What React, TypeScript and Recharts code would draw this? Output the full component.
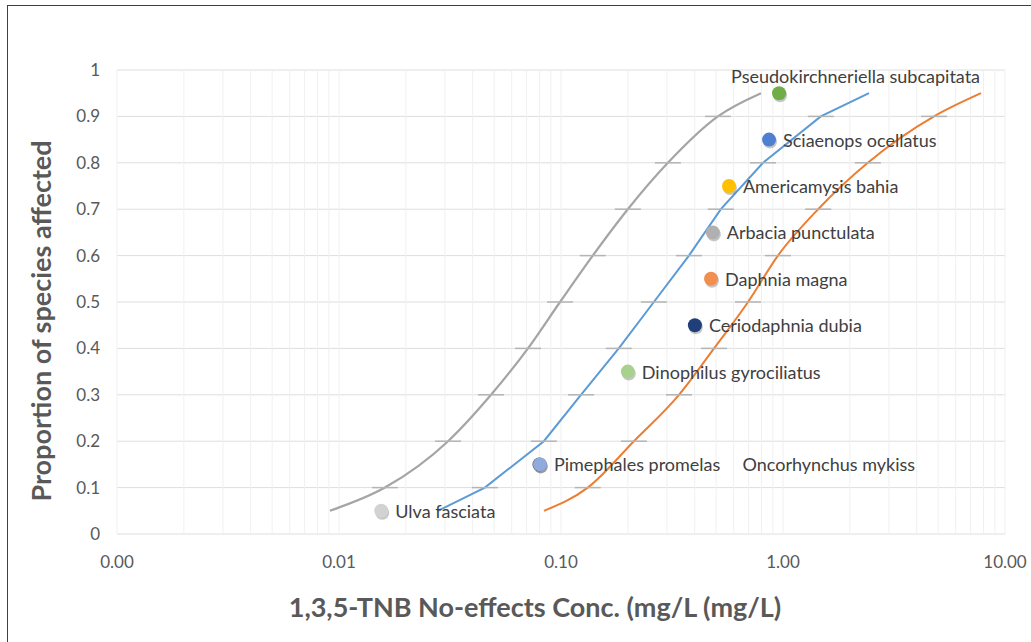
import {
  ComposedChart,
  Line,
  Scatter,
  XAxis,
  YAxis,
  CartesianGrid,
  ReferenceLine,
} from "recharts";

// proportion levels the fitted curves were sampled at
const levels = [0.05, 0.1, 0.2, 0.3, 0.4, 0.5, 0.6, 0.7, 0.8, 0.9, 0.95];
const grayConc = [0.0091, 0.0161, 0.031, 0.0484, 0.071, 0.099, 0.139, 0.2, 0.303, 0.509, 0.796];
const blueConc = [0.0279, 0.0454, 0.0837, 0.123, 0.182, 0.262, 0.377, 0.525, 0.813, 1.48, 2.44];
const orangeConc = [0.0838, 0.132, 0.213, 0.34, 0.489, 0.696, 0.949, 1.44, 2.41, 4.79, 7.8];

const species = [
  "Ulva fasciata",
  "Oncorhynchus mykiss",
  "Pimephales promelas",
  "Dinophilus gyrociliatus",
  "Ceriodaphnia dubia",
  "Daphnia magna",
  "Arbacia punctulata",
  "Americamysis bahia",
  "Sciaenops ocellatus",
  "Pseudokirchneriella subcapitata",
];
const speciesConc = [0.0155, 0.08, 0.0804, 0.2, 0.401, 0.474, 0.483, 0.571, 0.865, 0.96];
const speciesProp = [0.05, 0.15, 0.15, 0.35, 0.45, 0.55, 0.65, 0.75, 0.85, 0.95];

const xTicks = [0.001, 0.01, 0.1, 1, 10];
const yTicks = [0, 0.1, 0.2, 0.3, 0.4, 0.5, 0.6, 0.7, 0.8, 0.9, 1];
const minorX = [1, 2, 3, 4, 5, 6, 7, 8, 9].flatMap((m) =>
  [0.001, 0.01, 0.1, 1].map((d) => m * d)
).concat([10]);

const DOT_COLORS: Record<string, string> = {
  "Ulva fasciata": "#d2d2d2",
  "Oncorhynchus mykiss": "#4a4a4a",
  "Pimephales promelas": "#8faadc",
  "Dinophilus gyrociliatus": "#a9d18e",
  "Ceriodaphnia dubia": "#203f7a",
  "Daphnia magna": "#f28e50",
  "Arbacia punctulata": "#b0b0b0",
  "Americamysis bahia": "#ffc000",
  "Sciaenops ocellatus": "#4f7fcf",
  "Pseudokirchneriella subcapitata": "#70ad47",
};

// label offsets relative to the marker centre
const LABEL_POS: Record<string, [number, number]> = {
  "Oncorhynchus mykiss": [203, 0],
  "Pseudokirchneriella subcapitata": [-48, -17],
};

const toSeries = (conc: number[]) => conc.map((x, i) => ({ x, y: levels[i] }));
const grayData = toSeries(grayConc);
const blueData = toSeries(blueConc);
const orangeData = toSeries(orangeConc);
const speciesData = species.map((name, i) => ({
  x: speciesConc[i],
  y: speciesProp[i],
  name,
}));

const FONT = "Lato, 'Open Sans', sans-serif";

const crossTick = (props: any) => {
  const { cx, cy, index } = props;
  if (index === 0 || index === levels.length - 1 || cx == null) return <g key={index} />;
  return (
    <line
      key={index}
      x1={cx - 13}
      x2={cx + 13}
      y1={cy}
      y2={cy}
      stroke="#b4b4b4"
      strokeWidth={1.5}
    />
  );
};

const SpeciesDot = (props: any) => {
  const { cx, cy, payload } = props;
  const name = payload.name as string;
  const [dx, dy] = LABEL_POS[name] || [14, 0];
  return (
    <g>
      <circle cx={cx + 1} cy={cy + 2} r={7} fill="rgba(0,0,0,0.22)" />
      <circle cx={cx} cy={cy} r={7} fill={DOT_COLORS[name]} />
      <text
        x={cx + dx}
        y={cy + dy}
        dominantBaseline="central"
        fontSize={18}
        fontFamily={FONT}
        fill="#404040"
      >
        {name}
      </text>
    </g>
  );
};

export default function App() {
  return (
    <div
      style={{
        position: "fixed",
        left: 0,
        top: 0,
        width: 1031,
        height: 642,
        background: "#fff",
        overflow: "hidden",
        fontFamily: FONT,
      }}
    >
      <div
        style={{
          position: "absolute",
          left: 7,
          top: 5,
          width: 1040,
          height: 660,
          border: "1.5px solid #404040",
        }}
      />
      <div style={{ position: "absolute", left: 0, top: 0 }}>
        <ComposedChart
          width={1031}
          height={642}
          margin={{ top: 70, right: 26, bottom: 78, left: 0 }}
        >
          <CartesianGrid vertical={false} stroke="#dedede" strokeWidth={1} />
          {minorX.map((v) => (
            <ReferenceLine key={v} x={v} stroke="#f0f0f0" strokeWidth={1} />
          ))}
          <XAxis
            dataKey="x"
            type="number"
            scale="log"
            domain={[0.001, 10]}
            ticks={xTicks}
            allowDataOverflow
            tickFormatter={(v: number) => v.toFixed(2)}
            axisLine={false}
            tickLine={false}
            tickSize={0}
            tickMargin={22}
            height={30}
            tick={{ fontSize: 17, fill: "#595959", fontFamily: FONT }}
          />
          <YAxis
            type="number"
            domain={[0, 1]}
            ticks={yTicks}
            width={117}
            axisLine={false}
            tickLine={false}
            tickSize={0}
            tickMargin={17}
            tick={{ fontSize: 17, fill: "#595959", fontFamily: FONT }}
          />
          <Line
            data={grayData}
            dataKey="y"
            type="monotone"
            stroke="#a5a5a5"
            strokeWidth={2.25}
            dot={crossTick}
            activeDot={false}
            isAnimationActive={false}
          />
          <Line
            data={blueData}
            dataKey="y"
            type="linear"
            stroke="#5b9bd5"
            strokeWidth={2}
            dot={crossTick}
            activeDot={false}
            isAnimationActive={false}
          />
          <Line
            data={orangeData}
            dataKey="y"
            type="monotone"
            stroke="#ed7d31"
            strokeWidth={2}
            dot={crossTick}
            activeDot={false}
            isAnimationActive={false}
          />
          <Scatter
            data={speciesData}
            dataKey="y"
            shape={SpeciesDot}
            isAnimationActive={false}
          />
        </ComposedChart>
      </div>
      <div
        style={{
          position: "absolute",
          left: 40,
          top: 321,
          transform: "translate(-50%, -50%) rotate(-90deg)",
          whiteSpace: "nowrap",
          fontSize: 27,
          fontWeight: 700,
          color: "#595959",
        }}
      >
        Proportion of species affected
      </div>
      <div
        style={{
          position: "absolute",
          left: 535,
          top: 606,
          transform: "translate(-50%, -50%)",
          whiteSpace: "nowrap",
          fontSize: 27,
          fontWeight: 700,
          color: "#595959",
        }}
      >
        1,3,5-TNB No-effects Conc. (mg/L (mg/L)
      </div>
    </div>
  );
}
